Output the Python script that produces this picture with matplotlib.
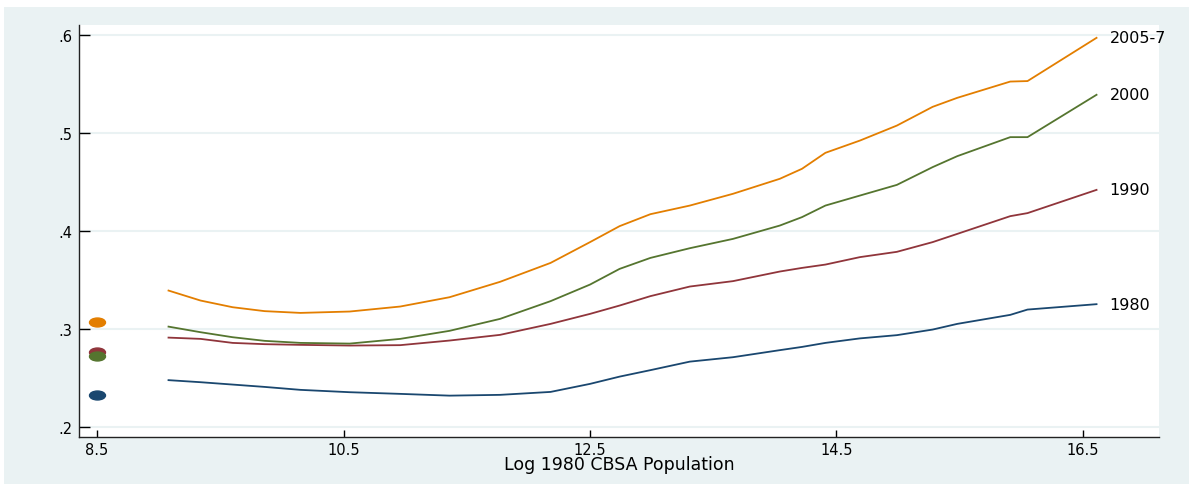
import numpy as np
import matplotlib
matplotlib.use("Agg")
import matplotlib.pyplot as plt
from matplotlib.patches import Rectangle
from matplotlib.path import Path
import matplotlib.transforms as mtransforms

# log 1980 CBSA population grid shared by the smoothed curves
log_pop = [9.08, 9.34, 9.60, 9.86, 10.15, 10.55, 10.96, 11.36, 11.77, 12.18,
           12.50, 12.74, 12.99, 13.31, 13.66, 14.04, 14.22, 14.41, 14.69,
           14.99, 15.28, 15.48, 15.91, 16.05, 16.61]

share_1980 = [0.2477, 0.2456, 0.2432, 0.2408, 0.2378, 0.2354, 0.2337, 0.2319,
              0.2327, 0.2357, 0.2439, 0.2513, 0.2579, 0.2666, 0.2711, 0.2783,
              0.2816, 0.2857, 0.2903, 0.2936, 0.2993, 0.3051, 0.3143, 0.3197,
              0.3252]
share_1990 = [0.2911, 0.2898, 0.2857, 0.2844, 0.2837, 0.2830, 0.2834, 0.2881,
              0.2939, 0.3051, 0.3153, 0.3238, 0.3334, 0.3432, 0.3487, 0.3585,
              0.3622, 0.3656, 0.3732, 0.3786, 0.3885, 0.3969, 0.4150, 0.4181,
              0.4418]
share_2000 = [0.3023, 0.2966, 0.2915, 0.2878, 0.2857, 0.2850, 0.2898, 0.2980,
              0.3102, 0.3283, 0.3452, 0.3612, 0.3724, 0.3823, 0.3918, 0.4054,
              0.4140, 0.4258, 0.4360, 0.4469, 0.4650, 0.4762, 0.4956, 0.4956,
              0.5388]
share_2005 = [0.3391, 0.3289, 0.3221, 0.3181, 0.3163, 0.3177, 0.3228, 0.3323,
              0.3480, 0.3673, 0.3885, 0.4048, 0.4170, 0.4258, 0.4378, 0.4531,
              0.4633, 0.4796, 0.4921, 0.5074, 0.5265, 0.5357, 0.5523, 0.5528,
              0.5969]

# national averages plotted at the left edge
dot_x = 8.5
dot_vals = {"2005-7": 0.3074, "1990": 0.2765, "2000": 0.2721, "1980": 0.2323}

years = ["1980", "1990", "2000", "2005-7"]
colors = {"1980": "#1a476f", "1990": "#90353b",
          "2000": "#55752f", "2005-7": "#e37e00"}
series = {"1980": share_1980, "1990": share_1990,
          "2000": share_2000, "2005-7": share_2005}

xticks = [8.5, 10.5, 12.5, 14.5, 16.5]
yticks = [0.2, 0.3, 0.4, 0.5, 0.6]
ytick_labels = [".2", ".3", ".4", ".5", ".6"]

bg = "#eaf2f3"

fig = plt.figure(figsize=(11.94, 4.85), dpi=100, facecolor="white")
fig.patches.append(Rectangle((4 / 1194, 0), 1185 / 1194, 477 / 485,
                             transform=fig.transFigure, facecolor=bg,
                             edgecolor="none", zorder=-1))
ax = fig.add_axes([0.0662, 0.0975, 0.9045, 0.8489])
ax.set_facecolor("white")

for yr in years:
    ax.plot(log_pop, series[yr], color=colors[yr], linewidth=1.3)
    ax.annotate(yr, (log_pop[-1], series[yr][-1]), xytext=(9.5, 0),
                textcoords="offset points", va="center", ha="left",
                fontsize=11.5, color="black")

oval = Path.unit_circle().transformed(mtransforms.Affine2D().scale(1.0, 0.56))
for yr in ["2005-7", "1990", "2000", "1980"]:
    ax.plot(dot_x, dot_vals[yr], marker=oval, markersize=11.5,
            color=colors[yr], linestyle="none")

ax.set_xlim(8.354, 17.117)
ax.set_ylim(0.190, 0.610)
ax.set_xticks(xticks)
ax.set_xticklabels([str(t) for t in xticks])
ax.set_yticks(yticks)
ax.set_yticklabels(ytick_labels)
ax.tick_params(axis="y", direction="in", length=8, width=1, pad=5,
               labelsize=10.5)
ax.tick_params(axis="x", direction="in", length=5, width=1, pad=4,
               labelsize=10.5)
ax.grid(axis="y", color=bg, linewidth=1.5)
ax.set_axisbelow(True)
for side in ["top", "right"]:
    ax.spines[side].set_visible(False)
for side in ["left", "bottom"]:
    ax.spines[side].set_color("#222222")
    ax.spines[side].set_linewidth(1.0)

ax.set_xlabel("Log 1980 CBSA Population", fontsize=12.5, labelpad=-1.5)

fig.savefig("out.png", dpi=100)
